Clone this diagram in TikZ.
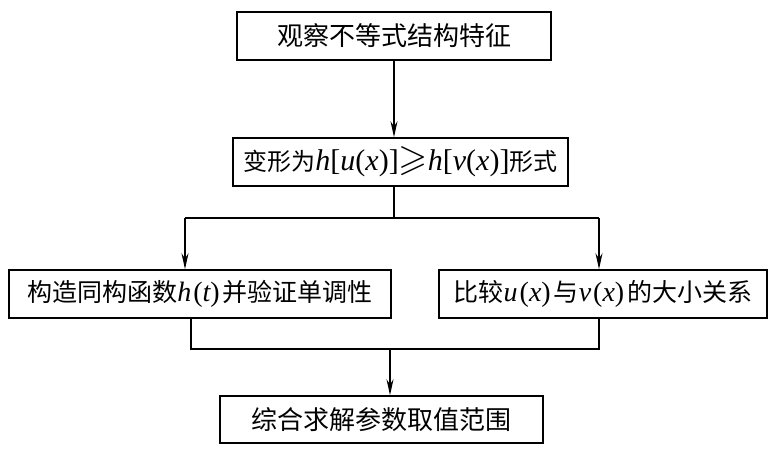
\documentclass[tikz,border=0pt]{standalone}
\usepackage{amsmath}
\usepackage{amssymb}
\usepackage{fontspec}
\setmainfont{Noto Sans CJK SC}
\newfontfamily\tms{Liberation Serif}
\newcommand{\vi}[1]{{\tms\itshape #1}}
\newcommand{\br}[1]{{\tms #1}}
\newcommand{\mbig}[1]{{\fontsize{30}{30}\selectfont #1}}
\newcommand{\mmid}[1]{{\fontsize{28}{30}\selectfont #1}}
\usetikzlibrary{arrows.meta}
\tikzset{
  stepbox/.style={draw, line width=1.6pt, minimum height=48pt, inner sep=1pt,
    font=\fontsize{26}{30}\selectfont},
  arr/.style={-{Stealth[length=16pt,width=7pt]}, line width=1.6pt},
  joint/.style={line width=1.6pt}
}
\begin{document}
\begin{tikzpicture}[x=1pt,y=-1pt]
\useasboundingbox (0,0) rectangle (768,450);
\node[stepbox, minimum width=314pt] (obs) at (394,36) {观察不等式结构特征};
\node[stepbox, minimum width=335pt, font=\fontsize{24}{30}\selectfont] (trans) at (400.5,162)
  {变形为\mbig{\vi{h}\br{[}\vi{u}\br{(}\vi{x}\br{)]}\scalebox{1.25}{$\geqslant$}\vi{h}\br{[}\vi{v}\br{(}\vi{x}\br{)]}}形式};
\node[stepbox, minimum width=382pt, font=\fontsize{25}{30}\selectfont] (cons) at (200,294)
  {构造同构函数\mmid{\vi{h}\hspace{2pt}\br{(}\vi{t}\br{)}}\hspace{3pt}并验证单调性};
\node[stepbox, minimum width=328pt, font=\fontsize{25}{30}\selectfont] (comp) at (603,294)
  {比较\mmid{\vi{u}\hspace{2pt}\br{(}\vi{x}\br{)}}\hspace{3pt}与\mmid{\vi{v}\hspace{2pt}\br{(}\vi{x}\br{)}}\hspace{3pt}的大小关系};
\node[stepbox, minimum width=323pt, minimum height=47pt] (final) at (381.5,419.5) {综合求解参数取值范围};
\coordinate (split) at (394,218);
\coordinate (bl) at (185,218);
\coordinate (br) at (599,218);
\coordinate (ml) at (191,349);
\coordinate (mr) at (599,349);
\coordinate (merge) at (390,349);
\draw[arr] (obs.south) -- (obs.south |- trans.north);
\draw[joint] (split |- trans.south) -- (split);
\draw[joint] (bl) -- (br);
\draw[arr] (bl) -- (bl |- cons.north);
\draw[arr] (br) -- (br |- comp.north);
\draw[joint] (ml |- cons.south) -- (ml) -- (mr) -- (mr |- comp.south);
\draw[arr] (merge) -- (merge |- final.north);
\end{tikzpicture}
\end{document}
